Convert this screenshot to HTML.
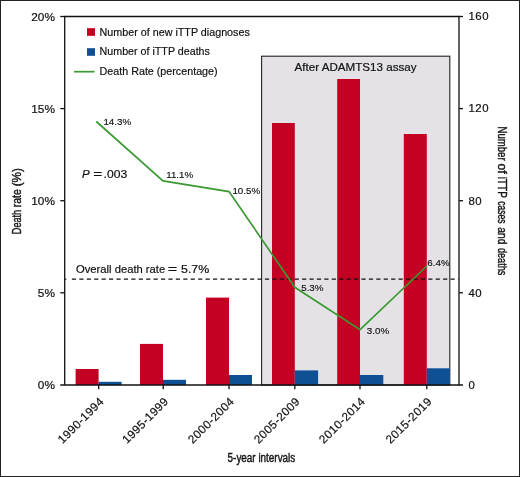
<!DOCTYPE html>
<html>
<head>
<meta charset="utf-8">
<title>iTTP death rate</title>
<style>
html,body{margin:0;padding:0;background:#fff;}
body{width:520px;height:477px;overflow:hidden;font-family:"Liberation Sans",sans-serif;}
svg{display:block;font-family:"Liberation Sans",sans-serif;will-change:transform;opacity:0.999;}
</style>
</head>
<body>
<svg width="520" height="477" viewBox="0 0 520 477" xmlns="http://www.w3.org/2000/svg">
  <rect x="0" y="0" width="520" height="477" fill="#ffffff"/>
  <!-- outer border -->
  <rect x="0.5" y="0.5" width="519" height="476" fill="none" stroke="#222" stroke-width="1"/>

  <!-- shaded region -->
  <rect x="261.6" y="56.2" width="188.2" height="328.8" fill="#e4e2e7" stroke="#222" stroke-width="1.1"/>

  <!-- red bars -->
  <g fill="#c40022">
    <rect x="75.6" y="369" width="23" height="16"/>
    <rect x="140" y="343.9" width="23" height="41.1"/>
    <rect x="206" y="297.6" width="23" height="87.4"/>
    <rect x="272" y="123" width="22.8" height="262"/>
    <rect x="337.2" y="79" width="22.8" height="306"/>
    <rect x="403.8" y="134" width="23" height="251"/>
  </g>
  <!-- blue bars -->
  <g fill="#0f4f94">
    <rect x="98.6" y="381.8" width="23" height="3.2"/>
    <rect x="163" y="379.8" width="23" height="5.2"/>
    <rect x="229" y="375" width="23" height="10"/>
    <rect x="294.8" y="370.4" width="23.3" height="14.6"/>
    <rect x="360" y="375" width="23.3" height="10"/>
    <rect x="426.8" y="368.3" width="23" height="16.7"/>
  </g>

  <!-- dashed overall line -->
  <line x1="64.7" y1="279.2" x2="66.3" y2="279.2" stroke="#111" stroke-width="1.2"/>
  <line x1="71.9" y1="279.2" x2="458.5" y2="279.2" stroke="#111" stroke-width="1.2" stroke-dasharray="4.2 3.224"/>

  <!-- green line -->
  <polyline points="96.3,121.5 163,180.9 229,191.6 294.8,287.3 360,329.6 426.9,266" fill="none" stroke="#3c9a33" stroke-width="1.7" stroke-linejoin="miter"/>

  <!-- axes -->
  <g stroke="#111" stroke-width="1.3" fill="none">
    <polyline points="64.7,385 64.7,16.5 459,16.5 459,385"/>
    <line x1="60.3" y1="385" x2="463" y2="385"/>
    <!-- left ticks -->
    <line x1="60.3" y1="16.5" x2="64.7" y2="16.5"/>
    <line x1="60.3" y1="108.6" x2="64.7" y2="108.6"/>
    <line x1="60.3" y1="200.7" x2="64.7" y2="200.7"/>
    <line x1="60.3" y1="292.8" x2="64.7" y2="292.8"/>
    <!-- right ticks -->
    <line x1="459" y1="16.5" x2="463" y2="16.5"/>
    <line x1="459" y1="108.6" x2="463" y2="108.6"/>
    <line x1="459" y1="200.7" x2="463" y2="200.7"/>
    <line x1="459" y1="292.8" x2="463" y2="292.8"/>
    <!-- bottom ticks -->
    <line x1="98.7" y1="385" x2="98.7" y2="389.3"/>
    <line x1="163.2" y1="385" x2="163.2" y2="389.3"/>
    <line x1="229" y1="385" x2="229" y2="389.3"/>
    <line x1="294.8" y1="385" x2="294.8" y2="389.3"/>
    <line x1="360" y1="385" x2="360" y2="389.3"/>
    <line x1="426.8" y1="385" x2="426.8" y2="389.3"/>
  </g>

  <!-- left axis labels -->
  <g font-size="11.8" fill="#111" text-anchor="end" stroke="#111" stroke-width="0.2">
    <text x="54.9" y="20.7">20%</text>
    <text x="54.9" y="112.8">15%</text>
    <text x="54.9" y="204.9">10%</text>
    <text x="54.9" y="297.0">5%</text>
    <text x="54.9" y="389.2">0%</text>
  </g>
  <!-- right axis labels -->
  <g font-size="11.4" fill="#111" text-anchor="start" letter-spacing="0.6" stroke="#111" stroke-width="0.2">
    <text x="468.4" y="20.3">160</text>
    <text x="468.4" y="112.4">120</text>
    <text x="468.4" y="204.5">80</text>
    <text x="468.4" y="296.6">40</text>
    <text x="468.4" y="388.8">0</text>
  </g>

  <!-- x labels -->
  <g font-size="11.7" fill="#111" text-anchor="end" letter-spacing="0.4" stroke="#111" stroke-width="0.2">
    <text transform="translate(104.6,402.2) rotate(-45)">1990-1994</text>
    <text transform="translate(169.1,402.2) rotate(-45)">1995-1999</text>
    <text transform="translate(234.9,402.2) rotate(-45)">2000-2004</text>
    <text transform="translate(300.7,402.2) rotate(-45)">2005-2009</text>
    <text transform="translate(365.9,402.2) rotate(-45)">2010-2014</text>
    <text transform="translate(432.6,402.2) rotate(-45)">2015-2019</text>
  </g>

  <!-- legend -->
  <rect x="87" y="28.2" width="8" height="7.6" fill="#c40022"/>
  <rect x="87" y="48.2" width="8" height="7.6" fill="#0f4f94"/>
  <line x1="74" y1="71.7" x2="94.6" y2="71.7" stroke="#3c9a33" stroke-width="1.7"/>
  <g font-size="11.7" fill="#111" stroke="#111" stroke-width="0.2">
    <text x="99.6" y="35.6" textLength="150.2" lengthAdjust="spacingAndGlyphs">Number of new iTTP diagnoses</text>
    <text x="99.6" y="55.4" textLength="110.3" lengthAdjust="spacingAndGlyphs">Number of iTTP deaths</text>
    <text x="99.6" y="75.1" textLength="118" lengthAdjust="spacingAndGlyphs">Death Rate (percentage)</text>
  </g>

  <!-- annotations -->
  <text x="294.6" y="70.9" font-size="11.5" fill="#111" stroke="#111" stroke-width="0.2" textLength="122" lengthAdjust="spacingAndGlyphs">After ADAMTS13 assay</text>
  <g font-size="11.6" fill="#111" stroke="#111" stroke-width="0.2">
    <text x="76" y="273.1" textLength="89.2" lengthAdjust="spacingAndGlyphs">Overall death rate</text>
    <text x="167.7" y="273.1" font-size="12" textLength="9.4" lengthAdjust="spacingAndGlyphs">=</text>
    <text x="181" y="273.1" textLength="28.2" lengthAdjust="spacingAndGlyphs">5.7%</text>
  </g>
  <g font-size="11.5" fill="#111" stroke="#111" stroke-width="0.2">
    <text x="82" y="178" font-style="italic">P</text>
    <text x="93.2" y="178" font-size="12" textLength="9" lengthAdjust="spacingAndGlyphs">=</text>
    <text x="103.6" y="178" textLength="23.6" lengthAdjust="spacingAndGlyphs">.003</text>
  </g>

  <!-- data labels -->
  <g font-size="9.8" fill="#111" stroke="#111" stroke-width="0.15">
    <text x="103.4" y="125.2">14.3%</text>
    <text x="166.2" y="177.8">11.1%</text>
    <text x="232.4" y="194.1">10.5%</text>
    <text x="301.2" y="291.1">5.3%</text>
    <text x="366.8" y="333.8">3.0%</text>
    <text x="427.3" y="265.7">6.4%</text>
  </g>

  <!-- axis titles -->
  <g font-size="13" fill="#111" stroke="#1a1a1a" stroke-width="0.45" stroke-linejoin="round">
    <g transform="translate(20.9,233.8) rotate(-90)">
      <text x="-0.4" y="0" textLength="24.4" lengthAdjust="spacingAndGlyphs">Death</text>
      <text x="26.5" y="0" textLength="18.0" lengthAdjust="spacingAndGlyphs">rate</text>
      <text x="47.5" y="0" textLength="18.2" lengthAdjust="spacingAndGlyphs">(%)</text>
    </g>
    <g transform="translate(498,126.9) rotate(90)">
      <text x="-0.4" y="0" textLength="34.1" lengthAdjust="spacingAndGlyphs">Number</text>
      <text x="36.6" y="0" textLength="10.3" lengthAdjust="spacingAndGlyphs">of</text>
      <text x="49.8" y="0" textLength="21.3" lengthAdjust="spacingAndGlyphs">iTTP</text>
      <text x="74.3" y="0" textLength="22.4" lengthAdjust="spacingAndGlyphs">cases</text>
      <text x="100.4" y="0" textLength="17.1" lengthAdjust="spacingAndGlyphs">and</text>
      <text x="121.1" y="0" textLength="27.3" lengthAdjust="spacingAndGlyphs">deaths</text>
    </g>
    <text transform="translate(227.6,462.2) scale(0.762,1)">5-year intervals</text>
  </g>
</svg>
</body>
</html>
